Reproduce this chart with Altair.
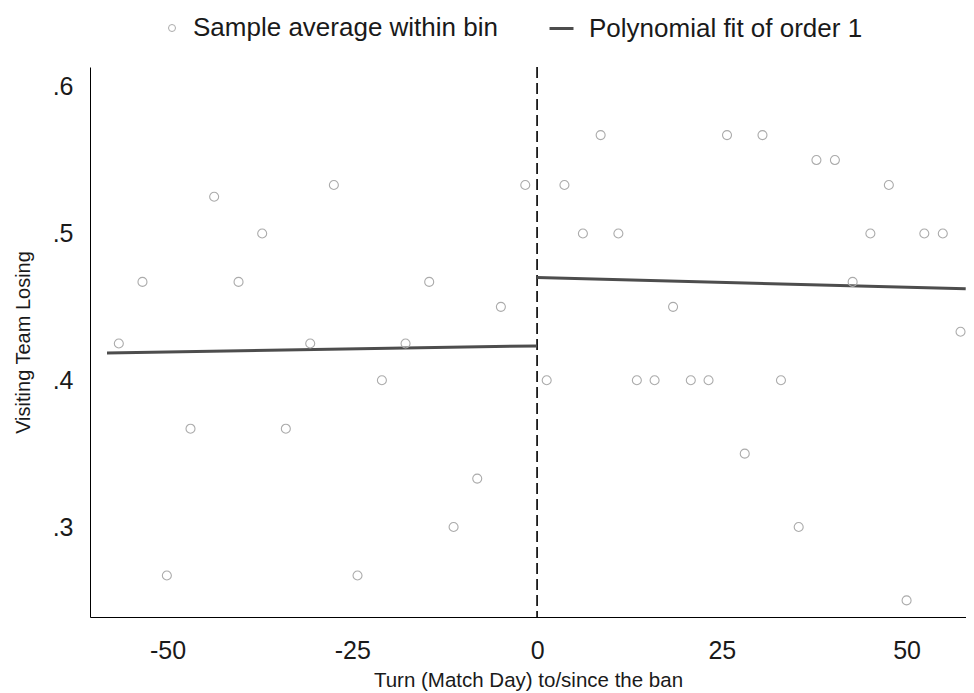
import altair as alt
import pandas as pd

# Binned sample averages (left of cutoff / right of cutoff)
left_x = [-56.6, -53.4, -50.1, -46.9, -43.7, -40.4, -37.2, -34.0, -30.7,
          -27.5, -24.3, -21.0, -17.8, -14.6, -11.3, -8.1, -4.9, -1.6]
left_y = [0.425, 0.467, 0.267, 0.367, 0.525, 0.467, 0.500, 0.367, 0.425,
          0.533, 0.267, 0.400, 0.425, 0.467, 0.300, 0.333, 0.450, 0.533]
right_x = [1.3, 3.7, 6.2, 8.6, 11.0, 13.5, 15.9, 18.4, 20.8, 23.2, 25.7, 28.1,
           30.5, 33.0, 35.4, 37.8, 40.3, 42.7, 45.1, 47.6, 50.0, 52.4, 54.9, 57.3]
right_y = [0.400, 0.533, 0.500, 0.567, 0.500, 0.400, 0.400, 0.450, 0.400, 0.400,
           0.567, 0.350, 0.567, 0.400, 0.300, 0.550, 0.550, 0.467, 0.500, 0.533,
           0.250, 0.500, 0.500, 0.433]

# Linear fits on each side
fit_x = [-58.2, 0.0, 0.0, 58.0]
fit_y = [0.4186, 0.4234, 0.4700, 0.4623]
fit_seg = ["left", "left", "right", "right"]

cutoff = [0]
x_ticks = [-50, -25, 0, 25, 50]
y_ticks = [0.3, 0.4, 0.5, 0.6]

S1 = "Sample average within bin"
S2 = "Polynomial fit of order 1"

pts = pd.DataFrame({"x": left_x + right_x, "y": left_y + right_y})
pts["series"] = S1
fit = pd.DataFrame({"x": fit_x, "y": fit_y, "seg": fit_seg})
fit["series"] = S2
cut = pd.DataFrame({"x": cutoff})

FONT = "Liberation Sans"
TXT = "#1a1a1a"

xscale = alt.Scale(domain=[-60.5, 58.04], nice=False, zero=False)
yscale = alt.Scale(domain=[0.2387, 0.6134], nice=False, zero=False)

xaxis = alt.Axis(values=x_ticks, title="Turn (Match Day) to/since the ban",
                 labelExpr="'' + datum.value",
                 grid=False, ticks=False, tickSize=0, domainColor="#000000",
                 domainWidth=1, labelFontSize=25, labelFont=FONT, labelColor=TXT,
                 labelPadding=21, titleFontSize=20.5, titleFont=FONT,
                 titleFontWeight="normal", titleColor=TXT,
                 titleBaseline="alphabetic", titleY=69)
yaxis = alt.Axis(values=y_ticks, title="Visiting Team Losing",
                 labelExpr="replace(format(datum.value, '.1f'), '0.', '.')",
                 grid=False, ticks=False, tickSize=0, domainColor="#000000",
                 domainWidth=1, labelFontSize=25, labelFont=FONT, labelColor=TXT,
                 labelPadding=17, titleFontSize=20, titleFont=FONT,
                 titleFontWeight="normal", titleColor=TXT,
                 titleBaseline="alphabetic", titleX=-61)

rule = alt.Chart(cut).mark_rule(strokeDash=[11, 5], strokeWidth=1.8,
                                color="#1a1a1a").encode(
    x=alt.X("x:Q", scale=xscale, axis=xaxis))

line = alt.Chart(fit).mark_line(strokeWidth=3).encode(
    x=alt.X("x:Q", scale=xscale, axis=xaxis),
    y=alt.Y("y:Q", scale=yscale, axis=yaxis),
    detail="seg:N",
    color=alt.Color("series:N", scale=alt.Scale(domain=[S2], range=["#4d4d4d"]),
                    legend=alt.Legend(orient="none", legendX=458, legendY=-52,
                                      title=None, symbolType="stroke",
                                      symbolSize=576, symbolStrokeWidth=3,
                                      labelFontSize=26, labelFont=FONT,
                                      labelColor=TXT, labelOffset=14,
                                      labelLimit=600, padding=0)),
)

points = alt.Chart(pts).mark_point(filled=False, size=81, strokeWidth=1.1,
                                   opacity=1).encode(
    x=alt.X("x:Q", scale=xscale, axis=xaxis),
    y=alt.Y("y:Q", scale=yscale, axis=yaxis),
    color=alt.Color("series:N", scale=alt.Scale(domain=[S1], range=["#ababab"]),
                    legend=alt.Legend(orient="none", legendX=69, legendY=-52,
                                      title=None, symbolType="circle",
                                      symbolSize=49, symbolStrokeWidth=1,
                                      labelFontSize=26, labelFont=FONT,
                                      labelColor=TXT, labelOffset=8,
                                      labelLimit=600, padding=0)),
)

chart = alt.layer(rule, line, points).resolve_scale(color="independent").properties(
    width=876, height=550,
    autosize=alt.AutoSizeParams(type="none"),
    padding={"left": 82, "top": 59, "right": 0, "bottom": 76},
    background="white",
).configure(font=FONT).configure_view(strokeWidth=0, stroke="transparent")

chart.save("out.html", embed_options={"renderer": "svg", "actions": False})
